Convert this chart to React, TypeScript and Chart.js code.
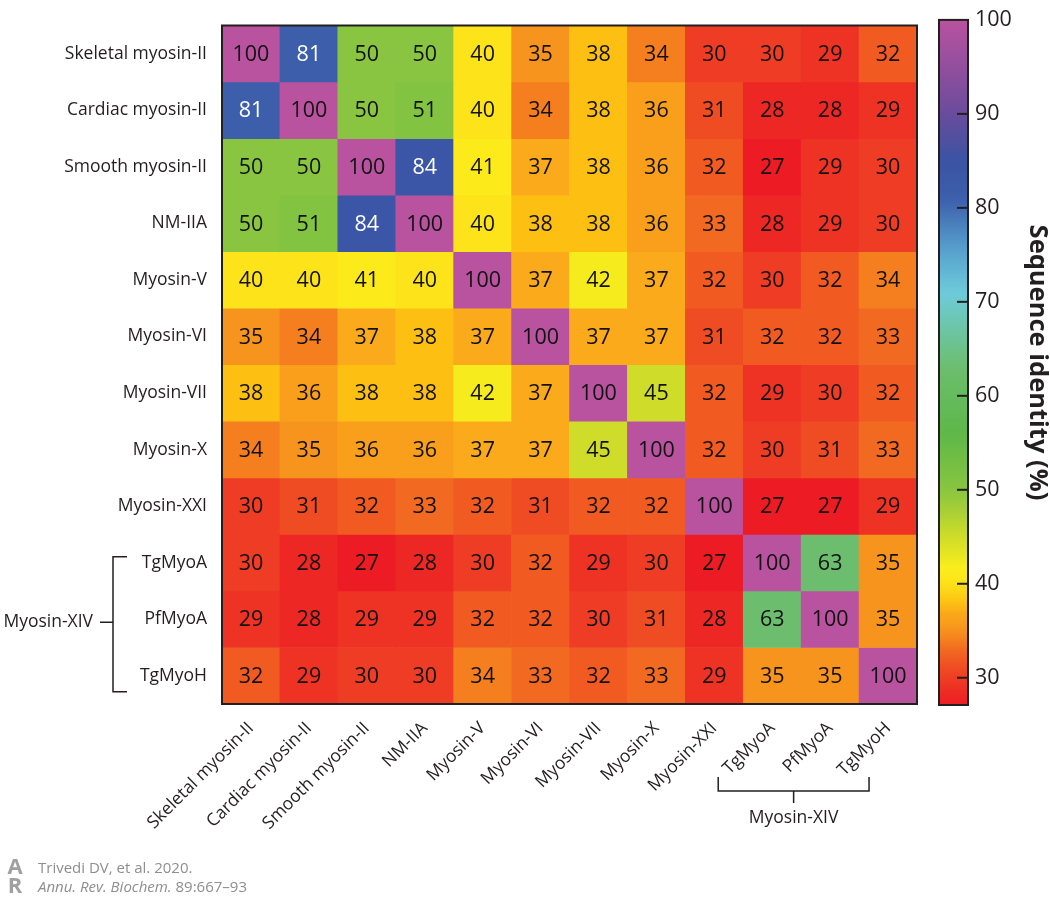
import React, { useEffect, useRef } from "react";
import { Chart, registerables } from "chart.js";

Chart.register(...registerables);

// ---------- data ----------
const rowLabels = [
  "Skeletal myosin-II",
  "Cardiac myosin-II",
  "Smooth myosin-II",
  "NM-IIA",
  "Myosin-V",
  "Myosin-VI",
  "Myosin-VII",
  "Myosin-X",
  "Myosin-XXI",
  "TgMyoA",
  "PfMyoA",
  "TgMyoH",
];
const colLabels = [...rowLabels];

const skeletalRow = [100, 81, 50, 50, 40, 35, 38, 34, 30, 30, 29, 32];
const cardiacRow = [81, 100, 50, 51, 40, 34, 38, 36, 31, 28, 28, 29];
const smoothRow = [50, 50, 100, 84, 41, 37, 38, 36, 32, 27, 29, 30];
const nm2aRow = [50, 51, 84, 100, 40, 38, 38, 36, 33, 28, 29, 30];
const myo5Row = [40, 40, 41, 40, 100, 37, 42, 37, 32, 30, 32, 34];
const myo6Row = [35, 34, 37, 38, 37, 100, 37, 37, 31, 32, 32, 33];
const myo7Row = [38, 36, 38, 38, 42, 37, 100, 45, 32, 29, 30, 32];
const myo10Row = [34, 35, 36, 36, 37, 37, 45, 100, 32, 30, 31, 33];
const myo21Row = [30, 31, 32, 33, 32, 31, 32, 32, 100, 27, 27, 29];
const tgMyoARow = [30, 28, 27, 28, 30, 32, 29, 30, 27, 100, 63, 35];
const pfMyoARow = [29, 28, 29, 29, 32, 32, 30, 31, 28, 63, 100, 35];
const tgMyoHRow = [32, 29, 30, 30, 34, 33, 32, 33, 29, 35, 35, 100];

const matrixRows = [
  skeletalRow, cardiacRow, smoothRow, nm2aRow, myo5Row, myo6Row,
  myo7Row, myo10Row, myo21Row, tgMyoARow, pfMyoARow, tgMyoHRow,
];

const groupLabel = "Myosin-XIV";
const groupFirst = 9;
const groupLast = 11;

const colorbarMin = 27.1;
const colorbarMax = 100;
const colorbarStep = 10;
const colorbarTitle = "Sequence identity (%)";

const colorStopValues = [27, 30, 33, 35, 37, 38, 40, 41.5, 45, 50, 56, 63, 71, 76, 81, 85, 90, 100];
const colorStopColors = [
  "#ED1C24", "#EE3D24", "#F26A21", "#F7941D", "#FAAA1A", "#FDC012", "#FCE31A",
  "#FCEE1B", "#CFDC29", "#89C540", "#5DB848", "#6CBE6E", "#6DCBDB", "#559BCB",
  "#3D5EAB", "#3A53A4", "#6A4C9C", "#B9529F",
];

// ---------- helpers ----------
const FONT = "'Open Sans', 'Noto Sans', sans-serif";
const INK = "#231F20";
const LABEL_SIZE = 17.5;

function hexToRgb(h: string) {
  const n = parseInt(h.slice(1), 16);
  return [(n >> 16) & 255, (n >> 8) & 255, n & 255];
}
function colorFor(v: number): string {
  const vs = colorStopValues;
  if (v <= vs[0]) return colorStopColors[0];
  if (v >= vs[vs.length - 1]) return colorStopColors[vs.length - 1];
  for (let i = 0; i < vs.length - 1; i++) {
    if (v >= vs[i] && v <= vs[i + 1]) {
      const t = (v - vs[i]) / (vs[i + 1] - vs[i]);
      const a = hexToRgb(colorStopColors[i]);
      const b = hexToRgb(colorStopColors[i + 1]);
      const c = a.map((x, k) => Math.round(x + (b[k] - x) * t));
      return `rgb(${c[0]},${c[1]},${c[2]})`;
    }
  }
  return "#000";
}

// ---------- plugins ----------
const cellLabelPlugin = {
  id: "cellLabels",
  afterDatasetsDraw(chart: any) {
    const ctx = chart.ctx;
    ctx.save();
    ctx.font = `21.5px ${FONT}`;
    ctx.textAlign = "center";
    ctx.textBaseline = "middle";
    chart.data.datasets.forEach((_ds: any, i: number) => {
      const meta = chart.getDatasetMeta(i);
      meta.data.forEach((el: any, j: number) => {
        const v = matrixRows[i][j];
        const p = el.getProps(["x", "y", "base"], true);
        ctx.fillStyle = v >= 75 && v < 95 ? "#FFFFFF" : "#111111";
        ctx.fillText(String(v), p.x, (p.y + p.base) / 2 + 1);
      });
    });
    ctx.restore();
  },
};

const frameAndGroupPlugin = {
  id: "frameAndGroup",
  afterDraw(chart: any) {
    const ctx = chart.ctx;
    const a = chart.chartArea;
    ctx.save();
    ctx.strokeStyle = INK;
    ctx.lineWidth = 2;
    ctx.strokeRect(a.left, a.top, a.right - a.left, a.bottom - a.top);

    // left group bracket
    const rs = chart.scales.rows;
    const yA = rs.getPixelForValue(groupFirst);
    const yH = rs.getPixelForValue(groupLast);
    const bx = a.left - 109;
    const top = yA - 6;
    const bot = yH + 16;
    const mid = (top + bot) / 2 - 2;
    ctx.lineWidth = 1.5;
    ctx.beginPath();
    ctx.moveTo(bx + 14, top);
    ctx.lineTo(bx, top);
    ctx.lineTo(bx, bot);
    ctx.lineTo(bx + 14, bot);
    ctx.moveTo(bx - 13, mid);
    ctx.lineTo(bx, mid);
    ctx.stroke();
    ctx.fillStyle = INK;
    ctx.font = `${LABEL_SIZE}px ${FONT}`;
    ctx.textAlign = "right";
    ctx.textBaseline = "middle";
    ctx.fillText(groupLabel, bx - 20, mid);

    // bottom group bracket
    const xs = chart.scales.x;
    const xl = xs.getPixelForValue(groupFirst) - 54;
    const xr = xs.getPixelForValue(groupLast) - 19;
    const by = a.bottom + 87;
    const xm = (xl + xr) / 2;
    ctx.beginPath();
    ctx.moveTo(xl, by - 14);
    ctx.lineTo(xl, by);
    ctx.lineTo(xr, by);
    ctx.lineTo(xr, by - 14);
    ctx.moveTo(xm, by);
    ctx.lineTo(xm, by + 12);
    ctx.stroke();
    ctx.textAlign = "center";
    ctx.fillText(groupLabel, xm, by + 27);
    ctx.restore();
  },
};

const colorbarDecorPlugin = {
  id: "colorbarDecor",
  afterDatasetsDraw(chart: any) {
    const ctx = chart.ctx;
    const a = chart.chartArea;
    const ys = chart.scales.y;
    ctx.save();
    ctx.strokeStyle = INK;
    ctx.lineWidth = 2;
    ys.ticks.forEach((t: any) => {
      if (t.value >= colorbarMax) return;
      const y = ys.getPixelForValue(t.value);
      ctx.beginPath();
      ctx.moveTo(a.right - 11, y);
      ctx.lineTo(a.right, y);
      ctx.stroke();
    });
    ctx.strokeRect(a.left, a.top, a.right - a.left, a.bottom - a.top);
    ctx.restore();
  },
};

// ---------- components ----------
function Heatmap() {
  const ref = useRef<HTMLCanvasElement>(null);
  useEffect(() => {
    if (!ref.current) return;
    Chart.defaults.font.family = FONT;
    const chart = new Chart(ref.current, {
      type: "bar",
      data: {
        labels: colLabels,
        datasets: matrixRows.map((row, i) => ({
          label: rowLabels[i],
          data: row.map(() => [i, i + 1]) as any,
          backgroundColor: row.map(colorFor),
          borderWidth: 0,
          barPercentage: 1,
          categoryPercentage: 1,
          grouped: false,
          xAxisID: "x",
          yAxisID: "y",
        })),
      },
      options: {
        animation: false,
        responsive: false,
        devicePixelRatio: 1,
        layout: { padding: { top: 10, right: 13, left: 0, bottom: 0 } },
        plugins: { legend: { display: false }, tooltip: { enabled: false } },
        scales: {
          x: {
            type: "category",
            offset: true,
            grid: { display: false },
            border: { display: false },
            ticks: {
              autoSkip: false,
              minRotation: 45,
              maxRotation: 45,
              padding: 6,
              color: INK,
              font: { size: LABEL_SIZE, family: FONT },
            },
            afterFit: (s: any) => {
              s.height = 194;
            },
          },
          y: { type: "linear", min: 0, max: 12, reverse: true, display: false },
          rows: {
            type: "category",
            labels: rowLabels,
            position: "left",
            offset: true,
            grid: { display: false, drawTicks: false },
            border: { display: false },
            ticks: {
              autoSkip: false,
              padding: 15,
              color: INK,
              font: { size: LABEL_SIZE, family: FONT },
            },
            afterFit: (s: any) => {
              s.width = 222;
            },
          },
        } as any,
      },
      plugins: [cellLabelPlugin, frameAndGroupPlugin],
    });
    return () => chart.destroy();
  }, []);
  return (
    <canvas
      ref={ref}
      width={930}
      height={898}
      style={{ position: "absolute", left: 0, top: 0, width: 930, height: 898 }}
    />
  );
}

function Colorbar() {
  const ref = useRef<HTMLCanvasElement>(null);
  useEffect(() => {
    if (!ref.current) return;
    const chart = new Chart(ref.current, {
      type: "bar",
      data: {
        labels: [""],
        datasets: [
          {
            data: [[colorbarMin, colorbarMax]] as any,
            borderWidth: 0,
            barPercentage: 1,
            categoryPercentage: 1,
            backgroundColor: (c: any) => {
              const ch = c.chart;
              if (!ch.chartArea) return "#ccc";
              const ys = ch.scales.y;
              const y0 = ys.getPixelForValue(colorbarMin);
              const y1 = ys.getPixelForValue(colorbarMax);
              const g = ch.ctx.createLinearGradient(0, y0, 0, y1);
              const n = 60;
              for (let k = 0; k <= n; k++) {
                const v = colorbarMin + ((colorbarMax - colorbarMin) * k) / n;
                g.addColorStop(k / n, colorFor(v));
              }
              return g;
            },
          },
        ],
      },
      options: {
        animation: false,
        responsive: false,
        devicePixelRatio: 1,
        layout: { padding: { left: 9, top: 8, bottom: 193, right: 0 } },
        plugins: { legend: { display: false }, tooltip: { enabled: false } },
        scales: {
          x: { display: false, offset: true },
          y: {
            position: "right",
            min: colorbarMin,
            max: colorbarMax,
            grid: { display: false, drawTicks: false },
            border: { display: false },
            ticks: {
              stepSize: colorbarStep,
              includeBounds: false,
              padding: 7,
              color: INK,
              font: { size: 21.5, family: FONT },
            },
            title: {
              display: true,
              text: colorbarTitle,
              color: INK,
              padding: { top: -3, bottom: 0 },
              font: { size: 25.5, weight: "bold", family: FONT },
            },
            afterFit: (s: any) => {
              s.width = 82;
            },
          },
        } as any,
      },
      plugins: [colorbarDecorPlugin],
    });
    return () => chart.destroy();
  }, []);
  return (
    <canvas
      ref={ref}
      width={120}
      height={898}
      style={{ position: "absolute", left: 930, top: 0, width: 120, height: 898 }}
    />
  );
}

export default function App() {
  return (
    <div
      style={{
        position: "fixed",
        left: 0,
        top: 0,
        width: 1050,
        height: 898,
        background: "#FFFFFF",
        overflow: "hidden",
        fontFamily: FONT,
      }}
    >
      <Heatmap />
      <Colorbar />
      <div
        style={{
          position: "absolute",
          left: 0,
          top: 856,
          width: 30,
          height: 38,
          color: "#A0A0A0",
          fontWeight: 700,
          fontSize: 22,
          lineHeight: "19px",
          textAlign: "center",
        }}
      >
        <div>A</div>
        <div>R</div>
      </div>
      <div
        style={{
          position: "absolute",
          left: 38,
          top: 858,
          color: "#8E8E8E",
          fontSize: 15,
          lineHeight: "19px",
          whiteSpace: "nowrap",
        }}
      >
        <div>Trivedi DV, et al. 2020.</div>
        <div>
          <span style={{ fontStyle: "italic" }}>Annu. Rev. Biochem.</span> 89:667–93
        </div>
      </div>
    </div>
  );
}
